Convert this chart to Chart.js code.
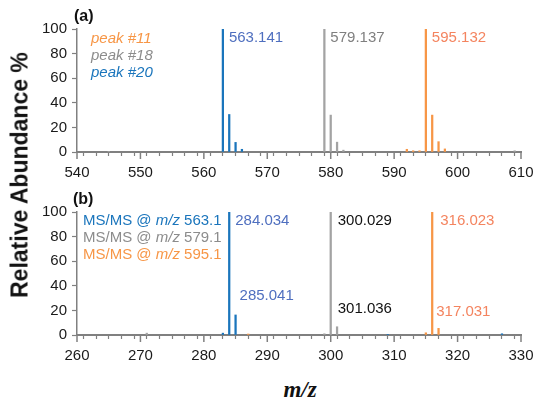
<!DOCTYPE html>
<html>
<head>
<meta charset="utf-8">
<script src="https://cdn.jsdelivr.net/npm/chart.js@4.4.1/dist/chart.umd.min.js"></script>
<style>
  body { margin: 0; background: #fff; }
  #wrap { position: relative; width: 550px; height: 410px; font-family: "Liberation Sans", Arial, sans-serif; }
  canvas { position: absolute; left: 0; }
  #ca { top: 0; }
  #cb { top: 185px; }
  #ytitle { position: absolute; left: 20px; top: 175px; transform: translate(-50%, -50%) rotate(-90deg); font-weight: bold; font-size: 23px; white-space: nowrap; color: #111; }
  #xtitle { position: absolute; left: 300px; top: 390px; transform: translate(-50%, -50%); font-family: "Liberation Serif", "Times New Roman", serif; font-style: italic; font-weight: bold; font-size: 23px; color: #111; }
</style>
</head>
<body>
<div id="wrap">
  <canvas id="ca" width="550" height="185"></canvas>
  <canvas id="cb" width="550" height="185"></canvas>
  <div id="ytitle">Relative Abundance %</div>
  <div id="xtitle">m/z</div>
</div>
<script>
Chart.defaults.font.family = "'Liberation Sans', Arial, sans-serif";
Chart.defaults.color = "#1a1a1a";

// panel (a): full scan around the three precursor ions
let aBlueMz = [563, 564, 565, 566];
let aBlueInt = [100, 30.5, 7.8, 2.2];
let aGrayMz = [545, 579, 580, 581, 582, 609];
let aGrayInt = [0.5, 100, 30, 8, 1.5, 1];
let aOrangeMz = [592, 593, 594, 595, 596, 597, 598];
let aOrangeInt = [2.2, 1, 1, 100, 30, 8.4, 2.5];

// panel (b): MS/MS fragments
let bBlueMz = [283, 284, 285, 309, 327];
let bBlueInt = [1.5, 100, 16.3, 0.5, 1];
let bGrayMz = [271, 299, 300, 301];
let bGrayInt = [1.5, 1, 100, 6.7];
let bOrangeMz = [287, 315, 316, 317];
let bOrangeInt = [0.8, 1.8, 100, 5.4];

// peak labels: text, m/z they hang off, height of label
let aPeakText = ["563.141", "579.137", "595.132"];
let aPeakMz = [563, 579, 595];
let aPeakAt = [93, 93, 93];
let bPeakText = ["284.034", "285.041", "300.029", "301.036", "316.023", "317.031"];
let bPeakMz = [284, 285, 300, 300, 316, 316];
let bPeakAt = [92.7, 32, 92.7, 21, 92.7, 18.7];

let xRangeA = [540, 610];
let xRangeB = [260, 330];

const BLUE = "#1a75bc";
const GRAY = "#a3a3a3";
const ORANGE = "#f79646";
const AXIS = "#808080";

function bars(mz, ints, color) {
  return {
    data: mz.map((m, i) => ({ x: m, y: ints[i] })),
    backgroundColor: color,
    barThickness: 1.6,
    grouped: false,
  };
}

function drawRuns(ctx, runs, x, y) {
  runs.forEach(([t, italic, color]) => {
    ctx.font = (italic ? "italic " : "") + "15px 'Liberation Sans', Arial";
    ctx.fillStyle = color;
    ctx.fillText(t, x, y);
    x += ctx.measureText(t).width;
  });
}

const textPlugin = {
  id: "peakText",
  afterDraw(chart, args, opts) {
    const ctx = chart.ctx;
    const xs = chart.scales.x, ys = chart.scales.y;
    ctx.save();
    // longer major ticks
    ctx.strokeStyle = AXIS;
    ctx.lineWidth = 1.5;
    xs.ticks.forEach((t) => {
      if (t.value % 10 === 0) {
        const px = xs.getPixelForValue(t.value);
        ctx.beginPath();
        ctx.moveTo(px, chart.chartArea.bottom);
        ctx.lineTo(px, chart.chartArea.bottom + 7);
        ctx.stroke();
      }
    });
    ctx.textBaseline = "middle";
    ctx.textAlign = "left";
    opts.text.forEach((t, i) => {
      ctx.font = "15px 'Liberation Sans', Arial";
      ctx.fillStyle = opts.colors[i];
      ctx.fillText(t, xs.getPixelForValue(opts.mz[i]) + opts.dx[i], ys.getPixelForValue(opts.at[i]));
    });
    ctx.font = "bold 16px 'Liberation Sans', Arial";
    ctx.fillStyle = "#111";
    ctx.fillText(opts.panel, opts.panelX, opts.panelY);
    opts.legend.forEach((runs, i) => {
      drawRuns(ctx, runs, opts.legendX, opts.legendY + i * 17);
    });
    ctx.restore();
  },
};

function makeChart(id, sets, range, top, axisH, peak) {
  return new Chart(document.getElementById(id), {
    type: "bar",
    data: { datasets: sets },
    options: {
      responsive: false,
      animation: false,
      layout: { padding: { left: 0, right: 29, top: top, bottom: 0 } },
      plugins: { legend: { display: false }, tooltip: { enabled: false }, peakText: peak },
      scales: {
        x: {
          type: "linear",
          min: range[0],
          max: range[1],
          offset: false,
          afterFit: (s) => { s.height = axisH; },
          border: { display: true, color: AXIS, width: 2 },
          grid: { drawOnChartArea: false, drawTicks: true, tickLength: 4, tickColor: AXIS, tickWidth: 1.2 },
          ticks: {
            stepSize: 2,
            autoSkip: false,
            maxRotation: 0,
            padding: 8,
            font: { size: 15 },
            callback: (v) => (v % 10 === 0 ? v : ""),
          },
        },
        y: {
          min: 0,
          max: 100,
          afterFit: (s) => { s.width = 77; },
          border: { display: true, color: AXIS, width: 1.5 },
          grid: { drawOnChartArea: false, drawTicks: true, tickLength: 5, tickColor: AXIS, tickWidth: 1.2 },
          ticks: { stepSize: 20, padding: 5, font: { size: 15 } },
        },
      },
    },
    plugins: [textPlugin],
  });
}

makeChart("ca", [
  bars(aBlueMz, aBlueInt, BLUE),
  bars(aGrayMz, aGrayInt, GRAY),
  bars(aOrangeMz, aOrangeInt, ORANGE),
], xRangeA, 29, 33, {
  text: aPeakText,
  mz: aPeakMz,
  at: aPeakAt,
  dx: [6, 6, 6],
  colors: ["#4f6fbf", "#7f7f7f", "#f4845f"],
  panel: "(a)",
  panelX: 74,
  panelY: 17,
  legendX: 91,
  legendY: 39,
  legend: [
    [["peak #11", true, ORANGE]],
    [["peak #18", true, "#8c8c8c"]],
    [["peak #20", true, BLUE]],
  ],
});

makeChart("cb", [
  bars(bBlueMz, bBlueInt, BLUE),
  bars(bGrayMz, bGrayInt, GRAY),
  bars(bOrangeMz, bOrangeInt, ORANGE),
], xRangeB, 27, 35, {
  text: bPeakText,
  mz: bPeakMz,
  at: bPeakAt,
  dx: [6, 4, 7, 7, 8, 4],
  colors: ["#4f6fbf", "#4f6fbf", "#111", "#111", "#f4845f", "#f4845f"],
  panel: "(b)",
  panelX: 73,
  panelY: 15,
  legendX: 83,
  legendY: 36,
  legend: [
    [["MS/MS @ ", false, BLUE], ["m/z", true, BLUE], [" 563.1", false, BLUE]],
    [["MS/MS @ ", false, "#8c8c8c"], ["m/z", true, "#8c8c8c"], [" 579.1", false, "#8c8c8c"]],
    [["MS/MS @ ", false, ORANGE], ["m/z", true, ORANGE], [" 595.1", false, ORANGE]],
  ],
});
</script>
</body>
</html>
